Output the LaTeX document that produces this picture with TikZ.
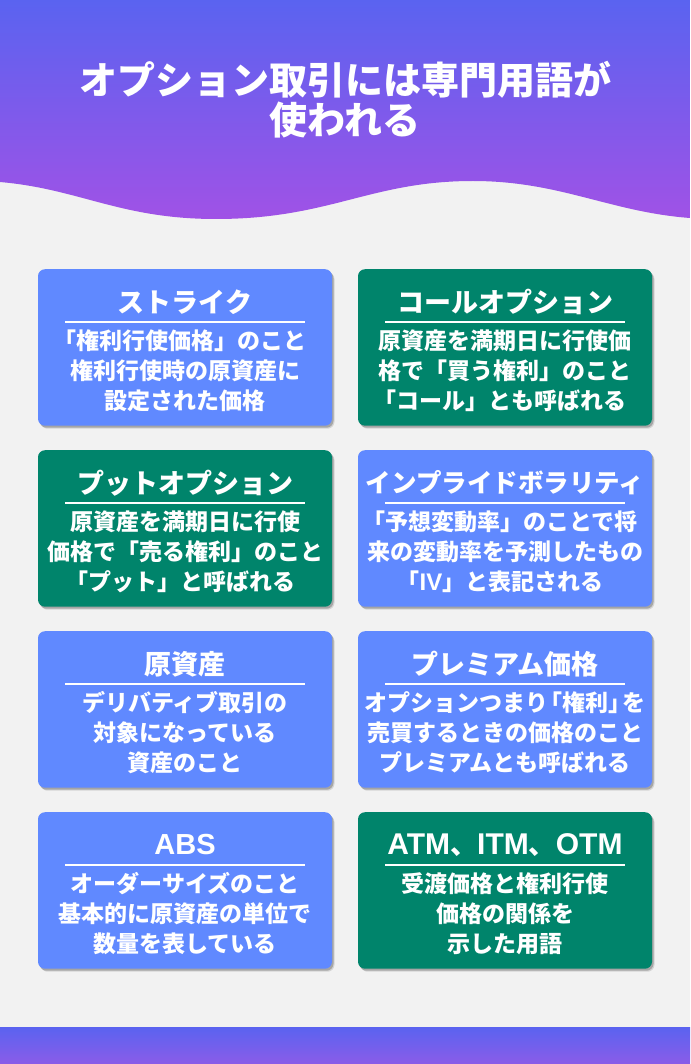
\documentclass[tikz,border=0pt]{standalone}
\usepackage{fontspec}
\setmainfont{Noto Sans CJK JP}
\newfontfamily\lat{Liberation Sans}
\usetikzlibrary{shadows}
\definecolor{bgc}{HTML}{F2F2F2}
\definecolor{gradtop}{HTML}{5A63F0}
\definecolor{gradbot}{HTML}{A052E6}
\definecolor{footbot}{HTML}{8B5CE8}
\definecolor{cardblue}{HTML}{6089FF}
\definecolor{cardgreen}{HTML}{00846B}
\newcommand{\nudge}{\kern10pt\relax}
\tikzset{
 card/.style={minimum width=294pt,minimum height=156.5pt,rounded corners=7pt,inner sep=0pt,
   drop shadow={shadow xshift=2.5pt,shadow yshift=-3pt,opacity=.12,fill=black},
   drop shadow={shadow xshift=1.5pt,shadow yshift=-2pt,opacity=.22,fill=black}},
 blue card/.style={card,fill=cardblue},
 green card/.style={card,fill=cardgreen},
 cardtitle/.style={text=white,font=\fontsize{27}{27}\selectfont\bfseries,inner sep=0pt,anchor=center},
 cardbody/.style={text=white,font=\fontsize{23}{30}\selectfont\bfseries,inner sep=0pt,align=center,anchor=center},
 cardrule/.style={draw=white,line width=1.5pt},
 maintitle/.style={text=white,font=\fontsize{38}{40}\selectfont\bfseries,inner sep=0pt,align=center}
}
\newcommand{\infocard}[6]{%
 % #1 name, #2 kind, #3 x-centre, #4 y-top, #5 title, #6 body
 \node[#2 card,anchor=north] (#1) at (#3,#4) {};
 \node[cardtitle] (#1t) at ([yshift=-33pt]#1.north) {#5};
 \coordinate (#1a) at ([xshift=-120pt,yshift=-53pt]#1.north);
 \coordinate (#1b) at ([xshift=120pt,yshift=-53pt]#1.north);
 \draw[cardrule] (#1a) -- (#1b);
 \node[cardbody] (#1x) at ([yshift=-102pt]#1.north) {#6};
}
\begin{document}
\begin{tikzpicture}[x=1pt,y=-1pt]
\useasboundingbox (0,0) rectangle (690,1064);
\fill[bgc] (0,0) rectangle (690,1064);
\shade[top color=gradtop,bottom color=gradbot]
 (0,0) -- (690,0) -- (690,218)
 .. controls (610,212) and (560,181) .. (473,181)
 .. controls (370,181) and (330,219) .. (216,219)
 .. controls (120,219) and (80,189) .. (0,182) -- cycle;
\shade[top color=gradtop,bottom color=footbot] (0,1027) rectangle (690,1064);
\node[maintitle] (title) at (345,99.5) {オプション取引には専門用語が\\使われる};
\infocard{a}{blue}{185}{269}{ストライク}{「権利行使価格」のこと\nudge\\権利行使時の原資産に\\設定された価格}
\infocard{b}{green}{505}{269}{コールオプション}{原資産を満期日に行使価\\格で「買う権利」のこと\\「コール」とも呼ばれる\nudge}
\infocard{c}{green}{185}{450}{プットオプション}{原資産を満期日に行使\\価格で「売る権利」のこと\\「プット」と呼ばれる\nudge}
\infocard{d}{blue}{505}{450}{\fontsize{25.5}{25.5}\selectfont インプライドボラリティ}{「予想変動率」のことで将\nudge\\来の変動率を予測したもの\\「{\lat\fontsize{24}{30}\selectfont IV}」と表記される\nudge}
\infocard{e}{blue}{185}{631}{原資産}{デリバティブ取引の\\対象になっている\\資産のこと}
\infocard{f}{blue}{505}{631}{プレミアム価格}{オプションつまり\kern-.4em「権利」\kern-.4em を\\売買するときの価格のこと\\プレミアムとも呼ばれる}
\infocard{g}{blue}{185}{812}{{\lat\fontsize{29}{29}\selectfont ABS}}{オーダーサイズのこと\\基本的に原資産の単位で\\数量を表している}
\infocard{h}{green}{505}{812}{{\lat\fontsize{30}{30}\selectfont ATM}、{\lat\fontsize{30}{30}\selectfont ITM}、{\lat\fontsize{30}{30}\selectfont OTM}}{受渡価格と権利行使\\価格の関係を\\示した用語}
\end{tikzpicture}
\end{document}
